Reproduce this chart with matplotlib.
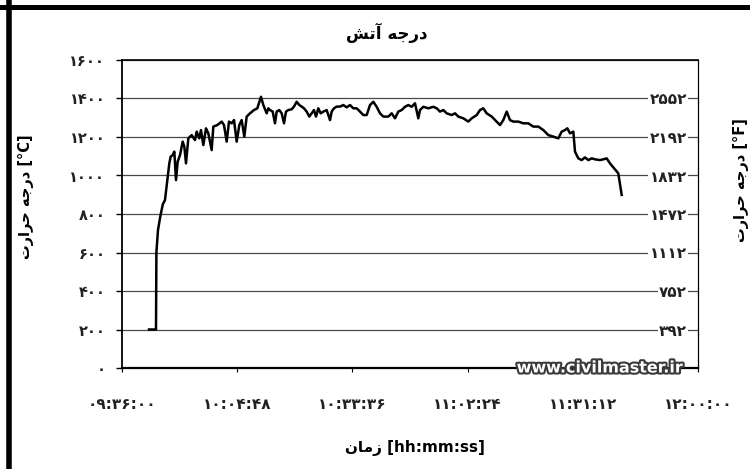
import matplotlib
matplotlib.use("Agg")
import matplotlib.pyplot as plt
import matplotlib.patheffects as pe
from matplotlib.lines import Line2D

plt.rcParams['font.family'] = ['DejaVu Sans']

# time in minutes after 09:36:00, temperature in degC
minutes = [6.75, 8.5, 8.6, 9.0, 9.6, 10.2, 10.75, 11.33, 11.83, 12.17, 12.67, 13.08,
           13.5, 13.92, 14.5, 15.17, 15.58, 16.0, 16.58, 17.42, 18.25, 18.67, 19.33,
           19.75, 20.33, 21.0, 21.58, 22.42, 22.83, 23.83, 24.92, 25.5, 26.17, 26.75,
           27.42, 28.0, 28.67, 29.33, 29.92, 30.58, 31.17, 32.0, 33.0, 33.83,
           34.75, 35.33, 36.17, 36.58, 37.0, 37.67, 38.25, 38.67, 39.33, 39.92, 40.5,
           41.0, 41.58, 42.42, 43.0, 43.67, 44.33, 44.92, 45.5, 46.17, 46.83, 47.42,
           48.0, 48.5, 49.08, 49.67, 50.33, 51.17, 52.0, 52.42, 53.0, 53.67, 54.5,
           55.33, 56.17, 57.0, 57.83, 58.67, 59.5, 60.33, 61.17, 62.0,
           62.83, 63.67, 64.5, 65.33, 66.58, 67.42, 68.25, 69.08, 69.92, 70.75, 71.58,
           72.42, 73.25, 74.08, 74.5, 75.33, 76.58, 77.83, 78.67, 79.5, 80.33, 81.17,
           82.42, 83.25, 84.08, 85.33, 86.58, 87.42, 88.67, 89.5, 90.33, 91.17, 92.42,
           93.67, 94.5, 95.33, 96.17, 97.0, 97.83, 99.08, 100.33, 101.58, 102.83,
           104.08, 105.33, 106.58, 107.83, 109.08, 109.92, 110.75, 111.33, 112.0,
           112.83, 113.25, 114.08, 114.92, 115.75, 116.58, 117.42, 118.25, 119.5,
           120.33, 121.17, 122.0, 122.83, 124.08, 124.92]
temp_c = [200, 200, 600, 717, 790, 850, 873, 976, 1063, 1098, 1106, 1124,
          976, 1072, 1106, 1176, 1150, 1063, 1193, 1210, 1184, 1228, 1193,
          1236, 1158, 1245, 1219, 1132, 1254, 1262, 1280, 1262, 1176, 1280,
          1271, 1288, 1176, 1262, 1288, 1202, 1306, 1323, 1340, 1349,
          1409, 1366, 1323, 1349, 1340, 1332, 1271, 1332, 1340, 1323, 1271,
          1332, 1340, 1344, 1358, 1383, 1366, 1358, 1349, 1332, 1306, 1323,
          1340, 1306, 1349, 1323, 1332, 1340, 1288, 1332, 1349, 1358, 1358,
          1366, 1354, 1366, 1349, 1349, 1332, 1314, 1314, 1366,
          1383, 1357, 1323, 1306, 1306, 1323, 1297, 1332, 1340, 1357, 1366,
          1357, 1375, 1297, 1340, 1357, 1349, 1357, 1349, 1332, 1340, 1323,
          1314, 1323, 1306, 1297, 1280, 1297, 1314, 1340, 1349, 1323, 1306,
          1280, 1262, 1288, 1332, 1288, 1280, 1280, 1271, 1271, 1254,
          1254, 1236, 1210, 1202, 1193, 1228, 1236, 1245, 1219,
          1228, 1124, 1089, 1080, 1094, 1080, 1089, 1084, 1080,
          1084, 1089, 1063, 1042, 1011, 899]

x_ticks = [0, 28.8, 57.6, 86.4, 115.2, 144]
x_labels = ["۰۹:۳۶:۰۰", "۱۰:۰۴:۴۸", "۱۰:۳۳:۳۶", "۱۱:۰۲:۲۴", "۱۱:۳۱:۱۲", "۱۲:۰۰:۰۰"]
c_ticks = [0, 200, 400, 600, 800, 1000, 1200, 1400, 1600]
c_labels = ["۰", "۲۰۰", "۴۰۰", "۶۰۰", "۸۰۰", "۱۰۰۰", "۱۲۰۰", "۱۴۰۰", "۱۶۰۰"]
f_ticks = [392, 752, 1112, 1472, 1832, 2192, 2552]
f_labels = ["۳۹۲", "۷۵۲", "۱۱۱۲", "۱۴۷۲", "۱۸۳۲", "۲۱۹۲", "۲۵۵۲"]

# persian strings, already shaped and in visual (left to right) order
title = "ﺶﺗﺁ ﻪﺟﺭﺩ"                      # درجه آتش
ylabel_c = "ﺕﺭﺍﺮﺣ ﻪﺟﺭﺩ [°C]"            # درجه حرارت
ylabel_f = "ﺕﺭﺍﺮﺣ ﻪﺟﺭﺩ [°F]"
xlabel = "ﻥﺎﻣﺯ [hh:mm:ss]"              # زمان

fig = plt.figure(figsize=(7.5, 4.69), dpi=100)
ax = fig.add_axes([122/750, 1 - 368/469, (698-122)/750, (368-60)/469])

ax.plot(minutes, temp_c, color='black', lw=1.8, zorder=3)
ax.set_xlim(0, 144)
ax.set_ylim(0, 1600)
ax.set_xticks(x_ticks)
ax.set_xticklabels(x_labels)
ax.set_yticks(c_ticks)
ax.set_yticklabels(c_labels)
ax.grid(axis='y', color='#4a4a4a', lw=0.9)
ax.tick_params(axis='y', length=4, width=1, pad=8, labelsize=10.5)
ax.tick_params(axis='x', length=3, width=0.8, pad=18, labelsize=11)
for lbl in ax.get_xticklabels() + ax.get_yticklabels():
    lbl.set_fontweight('bold')
    lbl.set_color('#222222')
ax.spines['left'].set_linewidth(1.3)
ax.spines['bottom'].set_linewidth(1.6)
ax.spines['top'].set_linewidth(1.2)
ax.spines['right'].set_linewidth(0.9)

ax2 = ax.twinx()
ax2.set_ylim(0 * 1.8 + 32, 1600 * 1.8 + 32)
ax2.set_yticks(f_ticks)
ax2.set_yticklabels(f_labels)
ax2.tick_params(axis='y', length=0, pad=-8, labelsize=11)
for lbl in ax2.get_yticklabels():
    lbl.set_horizontalalignment('right')
    lbl.set_fontweight('bold')
    lbl.set_color('#222222')
    lbl.set_bbox(dict(facecolor='white', edgecolor='none', pad=1))
for s in ax2.spines.values():
    s.set_visible(False)

fig.text(387/750, 1 - 33/469, title, ha='center', va='center',
         fontsize=12, fontweight='bold')
fig.text(415/750, 1 - 448/469, xlabel, ha='center', va='center',
         fontsize=11, fontweight='bold')
fig.text(26/750, 1 - 197/469, ylabel_c, ha='center', va='center',
         rotation=90, fontsize=10.5, fontweight='bold')
fig.text(741/750, 1 - 180/469, ylabel_f, ha='center', va='center',
         rotation=90, fontsize=10.5, fontweight='bold')

fig.text(600/750, 1 - 368/469, "www.civilmaster.ir", ha='center', va='center',
         fontsize=11.5, fontweight='bold', color='white',
         path_effects=[pe.withStroke(linewidth=3, foreground='#3a3a3a')])

# scanned frame edges
fig.add_artist(Line2D([0, 1], [1 - 7.5/469] * 2, transform=fig.transFigure,
                      color='black', lw=3.6))
fig.add_artist(Line2D([9/750] * 2, [0, 1], transform=fig.transFigure,
                      color='black', lw=4))

fig.savefig("out.png", dpi=100)
